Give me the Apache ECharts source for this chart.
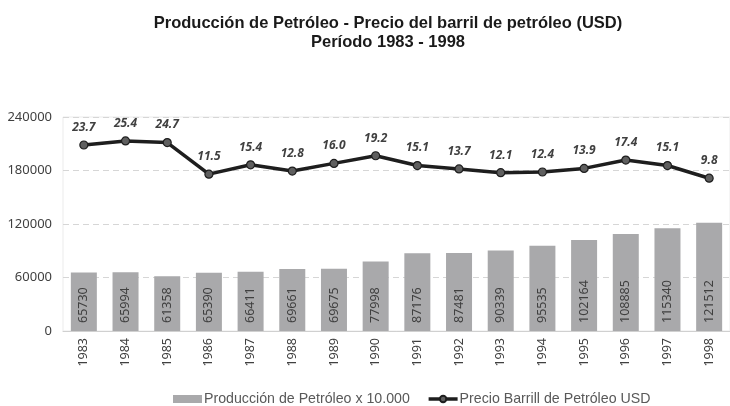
<!DOCTYPE html>
<html>
<head>
<meta charset="utf-8">
<script src="https://cdn.jsdelivr.net/npm/echarts@6/dist/echarts.min.js"></script>
<style>
  html, body { margin: 0; padding: 0; background: #fff; }
  #chart { width: 730px; height: 406px; }
</style>
</head>
<body>
<div id="chart"></div>
<script>
// Years on the category axis
const years = ['1983','1984','1985','1986','1987','1988','1989','1990',
               '1991','1992','1993','1994','1995','1996','1997','1998'];
// Oil production (x 10.000)
const production = [65730, 65994, 61358, 65390, 66411, 69661, 69675, 77998,
                    87176, 87481, 90339, 95535, 102164, 108885, 115340, 121512];
// Barrel price in USD
const barrelPrice = [23.7, 25.4, 24.7, 11.5, 15.4, 12.8, 16.0, 19.2,
                     15.1, 13.7, 12.1, 12.4, 13.9, 17.4, 15.1, 9.8];
// Left axis ticks
const yTicks = [0, 60000, 120000, 180000, 240000];

const chart = echarts.init(document.getElementById('chart'), null, { renderer: 'canvas' });

const labelFont = "'Noto Sans', 'Open Sans', sans-serif";
const arialLike = "'Liberation Sans', Arial, sans-serif";

chart.setOption({
  backgroundColor: '#ffffff',
  animation: false,
  title: {
    text: 'Producción de Petróleo - Precio del barril de petróleo (USD)\nPeríodo 1983 - 1998',
    left: 383,
    textAlign: 'center',
    top: 9,
    textStyle: {
      fontFamily: arialLike,
      fontSize: 16.5,
      fontWeight: 'bold',
      color: '#1a1a1a',
      lineHeight: 19
    }
  },
  legend: {
    left: 168,
    top: 387,
    itemGap: 17,
    itemWidth: 29,
    itemHeight: 8,
    textStyle: {
      fontFamily: arialLike,
      fontSize: 14.2,
      color: '#595959',
      padding: [0, 0, 0, -3]
    },
    data: [
      { name: 'Producción de Petróleo x 10.000', icon: 'rect' },
      { name: 'Precio Barrill de Petróleo USD', lineStyle: { width: 3.5, color: '#1e1e1e' } }
    ]
  },
  grid: {
    left: 63,
    right: -9,
    top: 117,
    bottom: 75,
    show: true,
    borderColor: '#ebebeb',
    borderWidth: 1
  },
  xAxis: [{
    type: 'category',
    data: years,
    axisLine: { lineStyle: { color: '#d0d0d0', width: 1 } },
    axisTick: { show: false },
    axisLabel: {
      rotate: 90,
      margin: 7,
      fontFamily: labelFont,
      fontSize: 12.5,
      color: '#404040'
    }
  }],
  yAxis: [{
    type: 'value',
    min: yTicks[0],
    max: yTicks[yTicks.length - 1],
    interval: yTicks[1] - yTicks[0],
    axisLine: { show: false },
    axisTick: { show: false },
    axisLabel: {
      margin: 11,
      formatter: v => String(v),
      fontFamily: labelFont,
      fontSize: 13,
      color: '#404040'
    },
    splitLine: {
      lineStyle: { color: '#d6d6d6', type: [6, 4], width: 1 }
    }
  }, {
    type: 'value',
    min: -54.1,
    max: 35.4,
    show: false,
    splitLine: { show: false }
  }],
  series: [{
    name: 'Producción de Petróleo x 10.000',
    type: 'bar',
    data: production,
    barWidth: 26,
    itemStyle: { color: '#a9a9ab' },
    label: {
      show: true,
      position: 'insideBottom',
      rotate: 90,
      align: 'left',
      verticalAlign: 'middle',
      distance: 8,
      fontFamily: labelFont,
      fontSize: 12.5,
      color: '#404040'
    }
  }, {
    name: 'Precio Barrill de Petróleo USD',
    type: 'line',
    yAxisIndex: 1,
    data: barrelPrice,
    symbol: 'circle',
    symbolSize: 8,
    lineStyle: { color: '#1e1e1e', width: 3.5 },
    itemStyle: { color: '#5f5f5f', borderColor: '#1e1e1e', borderWidth: 1.2 },
    label: {
      show: true,
      position: 'top',
      distance: 7,
      formatter: p => p.value.toFixed(1),
      fontFamily: labelFont,
      fontSize: 12,
      fontWeight: 'bold',
      fontStyle: 'italic',
      color: '#404040'
    },
    z: 5
  }]
});
</script>
</body>
</html>
